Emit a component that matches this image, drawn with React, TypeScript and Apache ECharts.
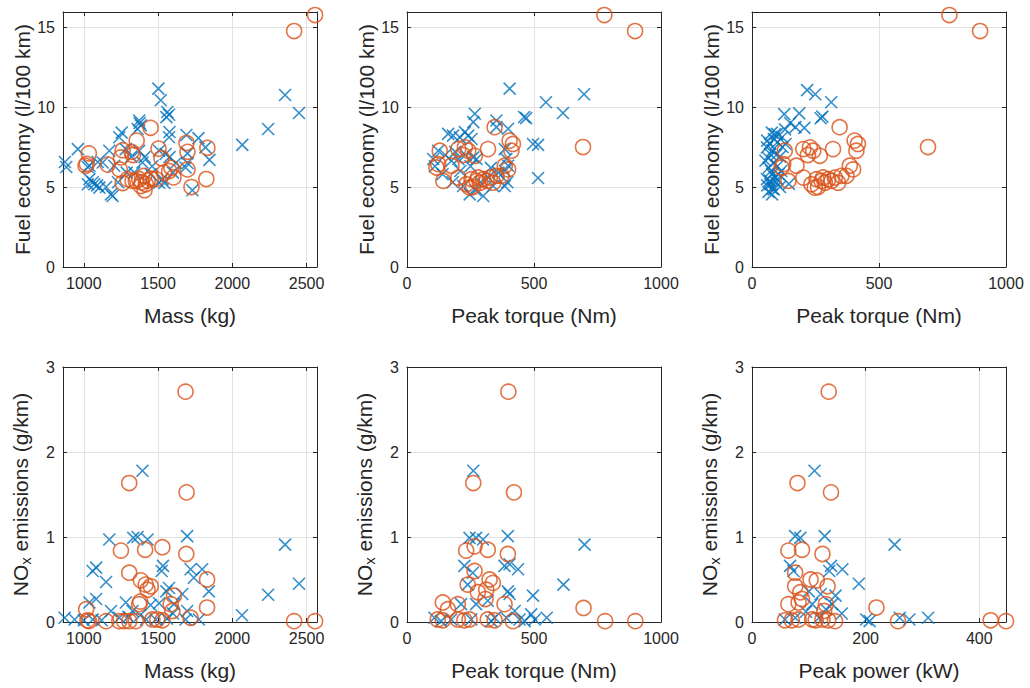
import React, { useEffect, useRef } from 'react';
import * as echarts from 'echarts';

const BLUE = '#0072BD';
const ORANGE = '#D95319';
const INK = '#262626';
const FONT = 'Liberation Sans';

// Panel 1: mass (kg) vs fuel economy (l/100 km)
const massFuelBlue = [
  [873, 6.56], [882, 6.25], [960, 7.37], [1027, 6.25], [1038, 6.33], [1094, 6.56], [1127, 6.53], [1205, 6.33],
  [1172, 7.27], [1283, 7.37], [1255, 8.4], [1239, 8.11], [1373, 9.16], [1384, 8.85], [1362, 8.63], [1376, 9.0],
  [1373, 7.27], [1409, 6.87], [1395, 6.53], [1502, 11.15], [1518, 10.42], [1562, 9.69], [1574, 9.52], [1556, 9.37],
  [1577, 8.44], [1574, 8.11], [1507, 7.27], [1551, 7.06], [1577, 6.87], [1691, 8.25], [1772, 8.06], [1698, 7.1],
  [1819, 7.48], [1846, 6.7], [1698, 6.5], [1685, 6.22], [1038, 5.49], [1071, 5.17], [1105, 4.96], [1027, 5.17],
  [1060, 5.3], [1090, 5.1], [1183, 4.54], [1194, 4.44], [1150, 5.0], [1230, 5.3], [1289, 5.9], [1340, 5.9],
  [1450, 5.8], [1507, 5.27], [1543, 5.25], [1529, 5.49], [1600, 5.9], [1620, 6.5], [1731, 4.8], [1460, 6.3],
  [1320, 6.9], [2067, 7.63], [2241, 8.63], [2355, 10.75], [2449, 9.63]
];
const massFuelOrange = [
  [1450, 8.7], [1356, 7.9], [1034, 7.1], [1020, 6.45], [1012, 6.33], [1161, 6.4], [1262, 7.3], [1322, 7.2],
  [1330, 7.0], [1242, 6.1], [1250, 6.85], [1503, 7.4], [1523, 6.8], [1691, 7.75], [1698, 7.2], [1832, 7.45],
  [1590, 6.2], [1604, 5.6], [1698, 6.1], [1825, 5.5], [1725, 5.0], [1262, 5.25], [1295, 5.49], [1328, 5.38],
  [1373, 5.49], [1406, 5.7], [1417, 5.17], [1451, 5.52], [1484, 5.49], [1409, 4.8], [1384, 5.06], [1350, 5.38],
  [1540, 5.9], [1575, 6.0], [1390, 5.3], [1430, 5.4], [2557, 15.75], [2416, 14.75]
];

// Panel 2: peak torque (Nm) vs fuel economy
const torqueFuelBlue = [
  [404, 11.15], [547, 10.3], [697, 10.8], [614, 9.63], [469, 9.31], [461, 9.38], [516, 7.63], [516, 5.56],
  [267, 9.58], [261, 9.06], [162, 8.32], [181, 8.21], [208, 8.1], [228, 8.43], [241, 8.21], [254, 8.0],
  [352, 8.74], [398, 8.64], [352, 9.16], [123, 7.27], [103, 6.75], [175, 6.64], [202, 6.75], [261, 6.85],
  [274, 6.75], [385, 7.37], [391, 6.75], [398, 6.33], [385, 6.0], [496, 7.69], [247, 4.54], [300, 4.44],
  [221, 5.06], [339, 5.06], [385, 5.06], [110, 6.3], [150, 7.0], [190, 7.2], [230, 7.0], [290, 5.3],
  [270, 4.8], [320, 5.6], [360, 5.9], [395, 5.3], [140, 5.8], [180, 5.3], [210, 6.0], [250, 6.3], [330, 6.2]
];
const torqueFuelOrange = [
  [345, 8.74], [404, 7.9], [417, 7.69], [411, 7.27], [319, 7.37], [202, 7.37], [228, 7.48], [241, 7.27],
  [267, 6.95], [129, 7.27], [123, 6.43], [116, 6.22], [175, 6.33], [143, 5.38], [202, 5.59], [385, 6.33],
  [398, 6.1], [234, 5.17], [247, 4.96], [274, 5.38], [300, 5.49], [326, 5.59], [352, 5.7], [372, 5.7],
  [254, 5.49], [287, 5.27], [313, 5.38], [339, 5.27], [220, 7.0], [260, 5.0], [280, 5.6],
  [777, 15.75], [898, 14.75], [693, 7.5]
];

// Panel 3: blue plotted against peak power, orange against peak torque
const powerFuelBlue = [
  [217, 11.06], [249, 10.8], [312, 10.3], [127, 9.56], [186, 9.6], [277, 9.4], [270, 9.3], [150, 9.0],
  [206, 8.7], [171, 8.74], [99, 8.32], [119, 8.11], [86, 8.0], [132, 7.69], [59, 7.48], [72, 7.06],
  [53, 6.64], [66, 6.22], [79, 5.8], [59, 5.49], [72, 5.17], [86, 4.85], [79, 4.54], [105, 5.8],
  [145, 5.2], [90, 8.3], [100, 7.8], [80, 7.3], [95, 7.0], [65, 6.8], [85, 6.5], [100, 6.3],
  [75, 6.0], [90, 5.6], [70, 5.4], [95, 5.3], [60, 5.1], [80, 4.9], [110, 5.0], [65, 4.7],
  [120, 7.5], [110, 6.9], [78, 8.4], [60, 7.9], [115, 6.0], [100, 5.5], [130, 8.6], [70, 7.7]
];

// Panel 4: mass vs NOx
const massNoxBlue = [
  [1395, 1.78], [1172, 0.97], [1333, 0.99], [1362, 1.0], [1429, 0.97], [1696, 1.01], [1060, 0.6], [1083, 0.64],
  [1150, 0.47], [1533, 0.66], [1524, 0.6], [1719, 0.62], [1797, 0.62], [1741, 0.52], [1842, 0.36], [1574, 0.4],
  [1556, 0.36], [1663, 0.33], [1038, 0.23], [1083, 0.27], [1283, 0.23], [1183, 0.13], [1328, 0.13], [1507, 0.22],
  [1607, 0.21], [1696, 0.13], [871, 0.05], [938, 0.03], [1060, 0.03], [1239, 0.05], [1484, 0.03], [1560, 0.04],
  [1685, 0.03], [1775, 0.03], [1000, 0.02], [1120, 0.02], [1300, 0.06], [1380, 0.08], [1420, 0.03], [1600, 0.1],
  [1450, 0.2], [2065, 0.08], [2241, 0.32], [2355, 0.91], [2449, 0.45]
];
const massNoxOrange = [
  [1685, 2.71], [1306, 1.635], [1692, 1.525], [1250, 0.84], [1413, 0.85], [1529, 0.88], [1690, 0.8], [1306, 0.58],
  [1384, 0.49], [1417, 0.44], [1451, 0.42], [1429, 0.38], [1373, 0.21], [1380, 0.24], [1607, 0.31], [1585, 0.21],
  [1596, 0.13], [1830, 0.5], [1830, 0.17], [1016, 0.15], [1025, 0.02], [1035, 0.01], [1150, 0.01], [1239, 0.01],
  [1272, 0.01], [1306, 0.01], [1350, 0.01], [1462, 0.03], [1495, 0.03], [1529, 0.02], [1719, 0.05],
  [2416, 0.01], [2557, 0.01]
];

// Panel 5: peak torque vs NOx
const torqueNoxBlue = [
  [261, 1.78], [246, 0.99], [272, 0.99], [299, 0.97], [397, 1.01], [699, 0.91], [226, 0.66], [259, 0.58],
  [384, 0.66], [404, 0.68], [437, 0.62], [616, 0.44], [496, 0.31], [239, 0.44], [397, 0.36], [404, 0.33],
  [213, 0.21], [272, 0.21], [318, 0.25], [424, 0.13], [489, 0.09], [503, 0.03], [108, 0.05], [174, 0.03],
  [253, 0.03], [345, 0.05], [443, 0.03], [463, 0.01], [134, 0.01], [332, 0.01], [391, 0.05], [550, 0.05]
];
const torqueNoxOrange = [
  [399, 2.71], [261, 1.635], [421, 1.525], [233, 0.84], [266, 0.89], [318, 0.85], [397, 0.8], [266, 0.6],
  [239, 0.44], [325, 0.5], [338, 0.46], [312, 0.38], [279, 0.35], [309, 0.27], [384, 0.21], [141, 0.23],
  [200, 0.21], [161, 0.15], [121, 0.03], [141, 0.02], [200, 0.03], [226, 0.02], [246, 0.03], [318, 0.03],
  [345, 0.02], [417, 0.01], [695, 0.165], [780, 0.01], [899, 0.01]
];

// Panel 6: peak power (kW) vs NOx
const powerNoxBlue = [
  [110, 1.78], [76, 1.01], [85, 0.99], [128, 1.01], [251, 0.91], [67, 0.66], [73, 0.6], [139, 0.66],
  [136, 0.6], [159, 0.62], [188, 0.45], [100, 0.36], [121, 0.33], [147, 0.31], [106, 0.21], [141, 0.21],
  [158, 0.1], [201, 0.03], [207, 0.01], [76, 0.05], [118, 0.05], [58, 0.03], [260, 0.05], [277, 0.03],
  [310, 0.05], [95, 0.12], [130, 0.15]
];
const powerNoxOrange = [
  [135, 2.71], [80, 1.635], [139, 1.525], [64, 0.84], [88, 0.85], [124, 0.8], [76, 0.58], [103, 0.5],
  [114, 0.49], [133, 0.42], [76, 0.42], [85, 0.35], [88, 0.27], [64, 0.21], [82, 0.23], [130, 0.21],
  [127, 0.13], [219, 0.17], [58, 0.02], [70, 0.02], [82, 0.03], [106, 0.03], [112, 0.02], [124, 0.03],
  [134, 0.02], [146, 0.01], [257, 0.01], [420, 0.02], [447, 0.01]
];

const massTicks = [1000, 1500, 2000, 2500];

const FUEL_NAME = 'Fuel economy (l/100 km)';
const NOX_NAME = '{n|NO}{s|x}{n| emissions (g/km)}';

const panels = [
  { xMin: 860, xMax: 2570, xTicks: massTicks, yMax: 15.94, yInt: 5, xName: 'Mass (kg)', yName: FUEL_NAME, blue: massFuelBlue, orange: massFuelOrange },
  { xMin: 0, xMax: 1000, xInt: 500, yMax: 15.94, yInt: 5, xName: 'Peak torque (Nm)', yName: FUEL_NAME, blue: torqueFuelBlue, orange: torqueFuelOrange },
  { xMin: 0, xMax: 1000, xInt: 500, yMax: 15.94, yInt: 5, xName: 'Peak torque (Nm)', yName: FUEL_NAME, blue: powerFuelBlue, orange: torqueFuelOrange },
  { xMin: 860, xMax: 2570, xTicks: massTicks, yMax: 3, yInt: 1, xName: 'Mass (kg)', yName: NOX_NAME, blue: massNoxBlue, orange: massNoxOrange },
  { xMin: 0, xMax: 1000, xInt: 500, yMax: 3, yInt: 1, xName: 'Peak torque (Nm)', yName: NOX_NAME, blue: torqueNoxBlue, orange: torqueNoxOrange },
  { xMin: 0, xMax: 447, xInt: 200, yMax: 3, yInt: 1, xName: 'Peak power (kW)', yName: NOX_NAME, blue: powerNoxBlue, orange: powerNoxOrange },
];

const LEFTS = [63, 407, 752];
const TOPS = [12, 367];
const W = 254;
const H = 255;
const TICK_FS = 16;
const NAME_FS = 21;

const plain = (v: number) => String(v);

export default function App() {
  const ref = useRef<HTMLDivElement>(null);
  useEffect(() => {
    const chart = echarts.init(ref.current!, null, { renderer: 'svg' });
    const grids: any[] = [];
    const xAxes: any[] = [];
    const yAxes: any[] = [];
    const series: any[] = [];
    const tickStyle = { show: true, inside: true, length: 4, lineStyle: { color: INK, width: 1 } };
    const lineStyle = { show: true, onZero: false, lineStyle: { color: INK, width: 1 } };
    const split = { show: true, lineStyle: { color: '#e2e2e2', width: 1 } };
    panels.forEach((p: any, i) => {
      grids.push({ left: LEFTS[i % 3], top: TOPS[Math.floor(i / 3)], width: W, height: H, containLabel: false });
      const xCommon: any = { type: 'value', gridIndex: i, min: p.xMin, max: p.xMax };
      if (p.xInt) xCommon.interval = p.xInt;
      const xTickCfg: any = p.xTicks ? { ...tickStyle, customValues: p.xTicks } : { ...tickStyle };
      const xSplit: any = p.xTicks ? { ...split, customValues: p.xTicks } : split;
      xAxes.push({
        ...xCommon,
        position: 'bottom',
        axisLine: lineStyle,
        axisTick: xTickCfg,
        splitLine: xSplit,
        axisLabel: {
          color: INK, fontSize: TICK_FS, fontFamily: FONT, margin: 8, formatter: plain,
          showMaxLabel: !!p.xTicks || p.xMax % p.xInt === 0,
          ...(p.xTicks ? { customValues: p.xTicks } : {}),
        },
        name: p.xName,
        nameLocation: 'middle',
        nameGap: 38,
        nameTextStyle: { color: INK, fontSize: NAME_FS, fontFamily: FONT },
      });
      xAxes.push({
        ...xCommon,
        position: 'top',
        axisLine: lineStyle,
        axisTick: xTickCfg,
        splitLine: { show: false },
        axisLabel: { show: false },
      });
      const yCommon: any = { type: 'value', gridIndex: i, min: 0, max: p.yMax, interval: p.yInt };
      yAxes.push({
        ...yCommon,
        position: 'left',
        axisLine: lineStyle,
        axisTick: tickStyle,
        splitLine: split,
        axisLabel: {
          color: INK, fontSize: TICK_FS, fontFamily: FONT, margin: 8, formatter: plain,
          showMaxLabel: p.yMax % p.yInt === 0,
        },
        name: p.yName,
        nameLocation: 'middle',
        nameGap: 30,
        nameTextStyle: {
          color: INK, fontSize: NAME_FS, fontFamily: FONT,
          rich: {
            n: { color: INK, fontSize: NAME_FS, fontFamily: FONT, lineHeight: 25 },
            s: { color: INK, fontSize: 15, fontFamily: FONT, lineHeight: 13, verticalAlign: 'bottom' },
          },
        },
      });
      yAxes.push({
        ...yCommon,
        position: 'right',
        axisLine: lineStyle,
        axisTick: tickStyle,
        splitLine: { show: false },
        axisLabel: { show: false },
      });
      series.push({
        type: 'scatter',
        xAxisIndex: 2 * i,
        yAxisIndex: 2 * i,
        data: p.blue,
        symbol: 'path://M0,0L10,10M10,0L0,10',
        symbolSize: 12,
        itemStyle: { color: 'rgba(0,0,0,0)', borderColor: BLUE, borderWidth: 1.6 },
        emphasis: { disabled: true },
        z: 2,
      });
      series.push({
        type: 'scatter',
        xAxisIndex: 2 * i,
        yAxisIndex: 2 * i,
        data: p.orange,
        symbol: 'circle',
        symbolSize: 15,
        itemStyle: { color: 'rgba(0,0,0,0)', borderColor: ORANGE, borderWidth: 1.6 },
        emphasis: { disabled: true },
        z: 3,
      });
    });
    chart.setOption({
      animation: false,
      backgroundColor: '#ffffff',
      textStyle: { fontFamily: FONT },
      grid: grids,
      xAxis: xAxes,
      yAxis: yAxes,
      series,
    });
    return () => chart.dispose();
  }, []);
  return <div ref={ref} style={{ position: 'absolute', left: 0, top: 0, width: 1030, height: 688 }} />;
}
